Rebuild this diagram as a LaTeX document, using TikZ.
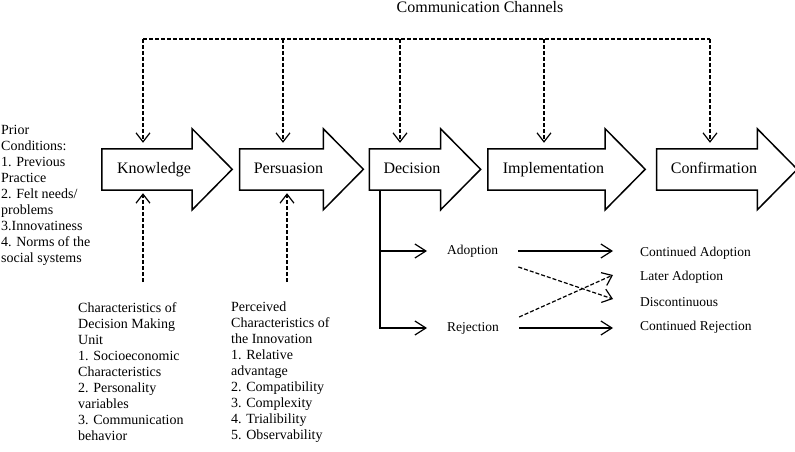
\documentclass[tikz,border=0pt]{standalone}
\usepackage{fontspec}
\setmainfont{Liberation Serif}
\usetikzlibrary{arrows.meta,calc}

\newcommand{\stagearrow}[1]{\draw[outline] (#1.north west) -- (#1.north east) -- ++(0,-20) -- ++(40,40.5) -- ++(-40,40.5) -- (#1.south east) -- (#1.south west) -- cycle;}

\begin{document}
\begin{tikzpicture}[x=1pt,y=-1pt,
    stage/.style ={inner sep=0pt, minimum height=41pt, text height=11pt, text depth=3.5pt, font=\fontsize{16}{19}\selectfont},
    outline/.style ={line width=1.5pt, line join=miter},
    channel/.style ={dash pattern=on 4pt off 2pt, line width=1.2pt},
    barb/.style ={-{Straight Barb[length=9pt,width=14pt]}},
    flow/.style ={line width=1.2pt, -{Straight Barb[length=11pt,width=14pt]}},
    factor/.style ={anchor=north west, align=left, inner sep=0pt, font=\fontsize{14}{16}\selectfont},
    result/.style ={anchor=west, inner sep=0pt, font=\fontsize{13.5}{16}\selectfont}]
   \clip (0,0) rectangle (795,452);
   \node[anchor=base, font=\fontsize{16}{19}\selectfont] (title) at (480,13) {Communication Channels};

   \node[stage, minimum width=90pt] (know) at (147,169.5) {\hspace*{14pt}Knowledge};
   \node[stage, minimum width=83pt] (pers) at (281.5,169.5) {\hspace*{14pt}Persuasion};
   \node[stage, minimum width=70pt] (deci) at (405,169.5) {\hspace*{14pt}Decision};
   \node[stage, minimum width=117pt] (impl) at (546.5,169.5) {\hspace*{14pt}Implementation};
   \node[stage, minimum width=100pt] (conf) at (707,169.5) {\hspace*{14pt}Confirmation};
   \foreach \n in {know,pers,deci,impl,conf} {\stagearrow{\n}}

   \foreach \n/\x in {know/143, pers/283, deci/400, impl/544, conf/710} {
     \coordinate (top-\n) at (\x,39);
     \draw[channel, barb, shorten >=6pt] (top-\n) -- (top-\n |- \n.north);
   }
   \draw[channel] (top-know) -- (top-conf);

   \node[factor] (prior) at (1,125) {Prior\\Conditions:\\1. Previous\\Practice\\2. Felt needs/\\problems\\3.Innovatiness\\4. Norms of the\\social systems};
   \node[factor] (dmu) at (78,302) {Characteristics of\\Decision Making\\Unit\\1. Socioeconomic\\Characteristics\\2. Personality\\variables\\3. Communication\\behavior};
   \node[factor] (pci) at (231,302) {Perceived\\Characteristics of\\the Innovation\\1. Relative\\advantage\\2. Compatibility\\3. Complexity\\4. Trialibility\\5. Observability};
   \coordinate (dmu-in) at (143,282);
   \coordinate (pci-in) at (287,282);
   \draw[channel, barb, shorten >=3pt] (dmu-in) -- (dmu-in |- know.south);
   \draw[channel, barb, shorten >=3pt] (pci-in) -- (pci-in |- pers.south);

   \coordinate (fork) at (380,0);
   \node[result] (adop) at (447,251) {Adoption};
   \node[result] (rej) at (447,328) {Rejection};
   \draw[flow, shorten >=20pt] (fork |- deci.south) -- (fork |- rej) -- (rej.west);
   \draw[flow, shorten >=20pt] (fork |- adop) -- (adop.west);

   \node[result] (contA) at (640,253) {Continued Adoption};
   \node[result] (later) at (640,277) {Later Adoption};
   \node[result] (disc) at (640,302) {Discontinuous};
   \node[result] (contR) at (640,327) {Continued Rejection};
   \draw[flow, shorten <=20pt, shorten >=27pt] (adop.east) -- (adop.east -| contA.west);
   \draw[flow, shorten <=20pt, shorten >=27pt] (rej.east) -- (rej.east -| contR.west);
   \draw[channel, barb] ($(adop.east)+(20,16)$) -- ($(disc.west)+(-27,-3)$);
   \draw[channel, barb] ($(rej.east)+(20,-11)$) -- ($(later.west)+(-27,-2)$);
 \end{tikzpicture}
\end{document}
